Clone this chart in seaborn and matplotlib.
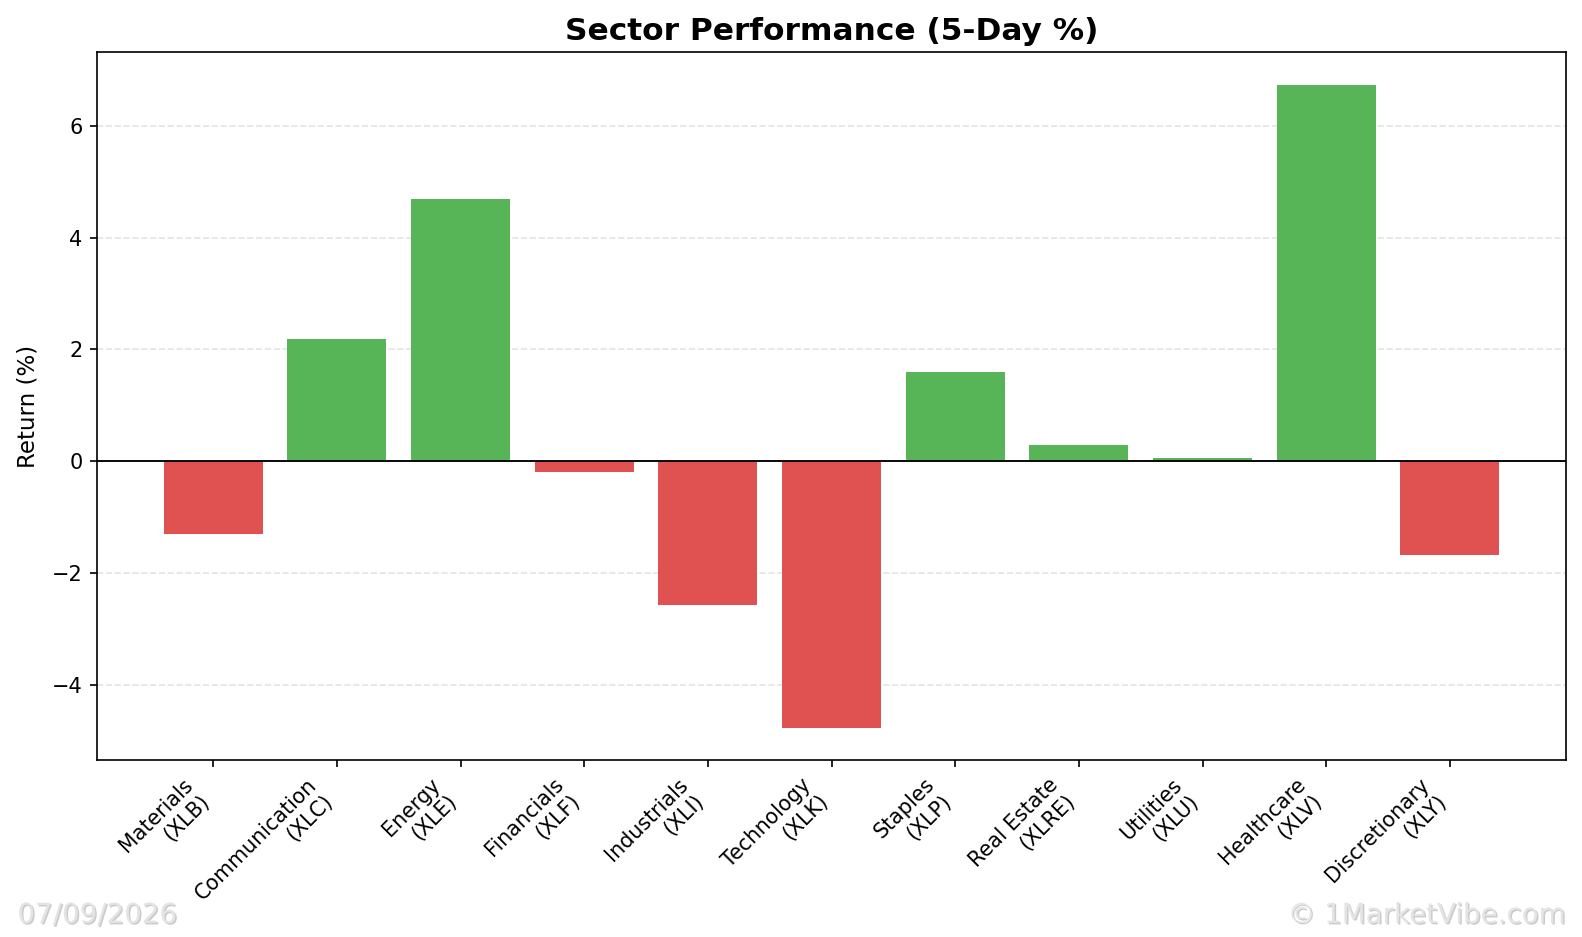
import matplotlib
matplotlib.use("Agg")
import matplotlib.pyplot as plt
import matplotlib.patheffects as pe
import seaborn as sns

# 섹터별 5일 수익률 데이터
sectors = ["Materials", "Communication", "Energy", "Financials", "Industrials",
           "Technology", "Staples", "Real Estate", "Utilities", "Healthcare",
           "Discretionary"]
tickers = ["XLB", "XLC", "XLE", "XLF", "XLI", "XLK", "XLP", "XLRE", "XLU", "XLV", "XLY"]
returns = [-1.30, 2.19, 4.70, -0.20, -2.58, -4.77, 1.59, 0.29, 0.05, 6.74, -1.68]

date_text = "07/09/2026"
brand_text = "\u00a9 1MarketVibe.com"

labels = [f"{s}\n({t})" for s, t in zip(sectors, tickers)]
colors = ["#57b457" if r >= 0 else "#e05252" for r in returns]

fig, ax = plt.subplots(figsize=(1582 / 150, 937 / 150), dpi=150)
fig.subplots_adjust(left=0.0613, right=0.990, top=0.944, bottom=0.189)

sns.barplot(x=labels, y=returns, hue=labels, palette=colors, legend=False,
            width=0.8, saturation=1, ax=ax, zorder=2)

ax.set_xlim(-0.94, 10.94)
ax.axhline(0, color="black", lw=0.9, zorder=3)
ax.grid(axis="y", linestyle="--", alpha=0.35, zorder=0)
ax.set_axisbelow(True)

ax.set_title("Sector Performance (5-Day %)", fontsize=15, fontweight="bold")
ax.set_ylabel("Return (%)", fontsize=11, labelpad=6)
ax.set_xlabel("")
ax.tick_params(axis="y", labelsize=10)
plt.setp(ax.get_xticklabels(), rotation=45, ha="right", rotation_mode="default", fontsize=9.9)

# 하단 워터마크 (그림자 효과)
shadow = [pe.withSimplePatchShadow(offset=(0.7, -0.7), shadow_rgbFace="#999999", alpha=0.5)]
fig.text(0.011, 0.015, date_text, fontsize=13.3, color="#e4e4e4", path_effects=shadow)
fig.text(0.990, 0.015, brand_text, fontsize=13.3, color="#e4e4e4", ha="right",
         path_effects=shadow)

fig.savefig("out.png", dpi=150)
